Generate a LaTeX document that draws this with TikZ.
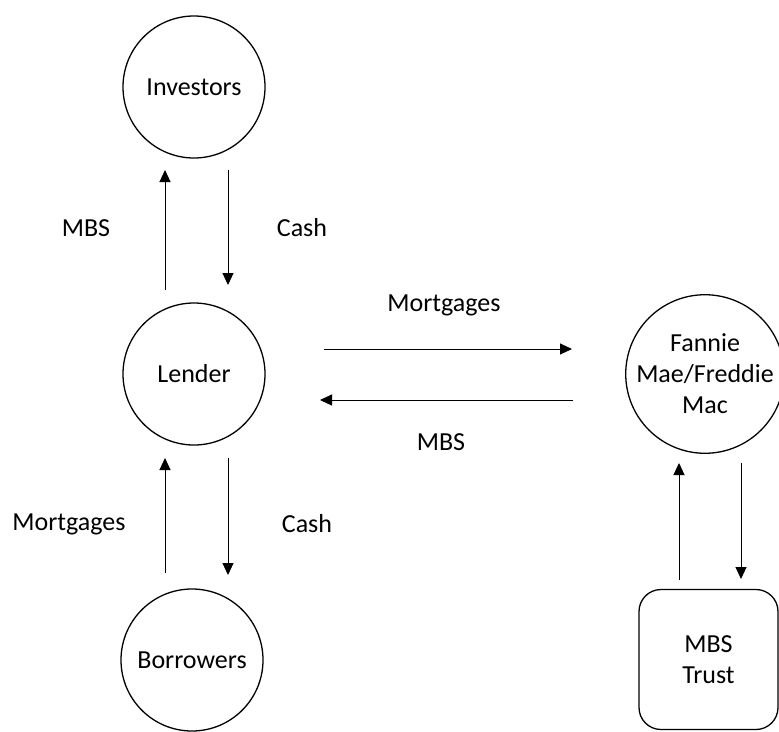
\documentclass[tikz,border=0pt]{standalone}
\usepackage{fontspec}
\setmainfont{Carlito}
\usetikzlibrary{arrows.meta}
\begin{document}
\begin{tikzpicture}[x=1pt,y=-1pt,
  ent/.style={circle,draw,line width=1.3pt,minimum size=142pt,inner sep=0pt,align=center,font=\fontsize{26}{31}\selectfont},
  trust/.style={rectangle,rounded corners=22pt,draw,line width=1.3pt,minimum width=139pt,minimum height=140pt,align=center,font=\fontsize{26}{31}\selectfont},
  flow/.style={line width=1pt,-{Triangle[length=12pt,width=11pt]}},
  lbl/.style={font=\fontsize{26}{31}\selectfont}]
\useasboundingbox (0,0) rectangle (779,731);
\node[ent] (inv) at (194,87) {Investors};
\node[ent] (len) at (194,374) {Lender};
\node[ent] (bor) at (192,660) {Borrowers};
\node[ent] (fan) at (705,374) {Fannie\\Mae/Freddie\\Mac};
\node[trust] (tr) at (708.5,659.5) {MBS\\Trust};
% coordinates
\coordinate (a1s) at (165,290); \coordinate (a1e) at (165,170);
\coordinate (a2s) at (228,170); \coordinate (a2e) at (228,285);
\coordinate (a3s) at (324,349); \coordinate (a3e) at (572,349);
\coordinate (a4s) at (573,400); \coordinate (a4e) at (320,400);
\coordinate (a5s) at (165,573); \coordinate (a5e) at (165,458);
\coordinate (a6s) at (228,458); \coordinate (a6e) at (228,575);
\coordinate (a7s) at (679,580); \coordinate (a7e) at (679,463);
\coordinate (a8s) at (741,463); \coordinate (a8e) at (741,579);
\draw[flow] (a1s) -- (a1e);
\draw[flow] (a2s) -- (a2e);
\draw[flow] (a3s) -- (a3e);
\draw[flow] (a4s) -- (a4e);
\draw[flow] (a5s) -- (a5e);
\draw[flow] (a6s) -- (a6e);
\draw[flow] (a7s) -- (a7e);
\draw[flow] (a8s) -- (a8e);
\node[lbl] (l1) at (86,228) {MBS};
\node[lbl] (l2) at (302,228) {Cash};
\node[lbl] (l3) at (444,305) {Mortgages};
\node[lbl] (l4) at (441,442) {MBS};
\node[lbl] (l5) at (69,524) {Mortgages};
\node[lbl] (l6) at (307,524) {Cash};
\end{tikzpicture}
\end{document}
